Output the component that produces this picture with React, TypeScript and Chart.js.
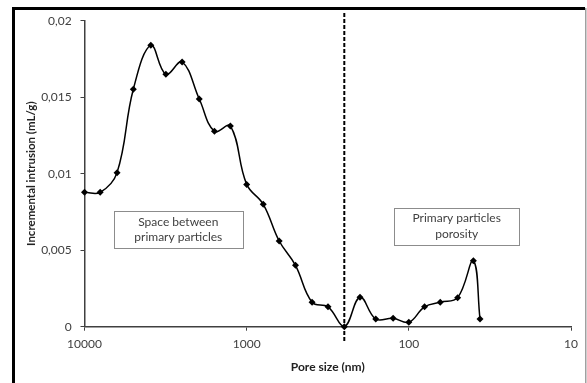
import React, { useEffect, useRef } from "react";
import { Chart, registerables } from "chart.js";

Chart.register(...registerables);

// ---- data ----
const poreSizes = [10000, 8000, 6300, 5000, 3900, 3150, 2500, 1960, 1580, 1260, 1000, 790, 630, 500, 395, 315, 250, 200, 160, 125, 100, 80, 64, 50, 40, 36.4];
const intrusion = [0.00878, 0.00878, 0.01007, 0.01552, 0.01839, 0.0165, 0.0173, 0.01488, 0.01277, 0.01312, 0.0093, 0.008, 0.0056, 0.00401, 0.0016, 0.0013, 0, 0.00192, 0.0005, 0.00055, 0.00029, 0.0013, 0.0016, 0.0019, 0.00431, 0.0005];
const dividerX = 250;
const dividerY = [0.0205, -0.001];
const xTickValues = [10, 100, 1000, 10000];
const yTickValues = [0, 0.005, 0.01, 0.015, 0.02];
const annotationTexts = [["Space between", "primary particles"], ["Primary particles", "porosity"]];
const annotationXRange = [[6580, 1059], [123, 20.9]];
const annotationYRange = [[0.00756, 0.00512], [0.00778, 0.00534]];

const FONT = "Lato, 'Open Sans', sans-serif";
const TEXT = "#404040";

const annotationPlugin = {
  id: "annotBoxes",
  afterDatasetsDraw(chart: any) {
    const { ctx, scales } = chart;
    const xs = scales.x, ys = scales.y;
    ctx.save();
    annotationTexts.forEach((lines, i) => {
      const x1 = xs.getPixelForValue(annotationXRange[i][0]);
      const x2 = xs.getPixelForValue(annotationXRange[i][1]);
      const y1 = ys.getPixelForValue(annotationYRange[i][0]);
      const y2 = ys.getPixelForValue(annotationYRange[i][1]);
      const l = Math.min(x1, x2), r = Math.max(x1, x2), t = Math.min(y1, y2), b = Math.max(y1, y2);
      ctx.fillStyle = "#ffffff";
      ctx.fillRect(l, t, r - l, b - t);
      ctx.strokeStyle = "#8c8c8c";
      ctx.lineWidth = 1;
      ctx.strokeRect(Math.round(l) + 0.5, Math.round(t) + 0.5, Math.round(r - l), Math.round(b - t));
      ctx.fillStyle = TEXT;
      ctx.font = `12px ${FONT}`;
      ctx.textAlign = "center";
      ctx.textBaseline = "middle";
      const cx = (l + r) / 2, cy = (t + b) / 2;
      const lh = 15.5;
      lines.forEach((s, j) => {
        ctx.fillText(s, cx, cy + (j - (lines.length - 1) / 2) * lh);
      });
    });
    ctx.restore();
  },
};

const framePlugin = {
  id: "frame",
  beforeDraw(chart: any) {
    const { ctx, width, height } = chart;
    ctx.save();
    ctx.fillStyle = "#ffffff";
    ctx.fillRect(0, 0, width, height);
    ctx.restore();
  },
  afterDraw(chart: any) {
    const { ctx, height } = chart;
    ctx.save();
    ctx.fillStyle = "#000000";
    ctx.fillRect(12, 7, 3, height - 7);
    ctx.fillRect(12, 7, 573, 3);
    ctx.fillStyle = "#a0a0a0";
    ctx.fillRect(585, 8, 1.5, height - 8);
    ctx.restore();
  },
};

export default function App() {
  const ref = useRef<HTMLCanvasElement | null>(null);
  useEffect(() => {
    if (!ref.current) return;
    const chart = new Chart(ref.current, {
      type: "line",
      data: {
        datasets: [
          {
            data: poreSizes.map((x, i) => ({ x, y: intrusion[i] })),
            borderColor: "#000000",
            backgroundColor: "#000000",
            borderWidth: 1.5,
            pointStyle: "rectRot",
            pointRadius: 3.5,
            pointBorderWidth: 0,
            tension: 0.4,
            clip: false as any,
          },
          {
            data: dividerY.map((y) => ({ x: dividerX, y })),
            borderColor: "#000000",
            borderWidth: 2,
            borderDash: [4, 2],
            pointRadius: 0,
            tension: 0,
            clip: false as any,
          },
        ],
      },
      options: {
        animation: false,
        responsive: true,
        maintainAspectRatio: false,
        layout: { padding: { left: 0, top: 20.7, right: 16, bottom: 0 } },
        plugins: { legend: { display: false }, tooltip: { enabled: false } },
        scales: {
          x: {
            type: "logarithmic",
            reverse: true,
            min: 10,
            max: 10000,
            afterBuildTicks: (s: any) => {
              s.ticks = xTickValues.map((v) => ({ value: v, major: true }));
            },
            afterFit: (s: any) => {
              s.height = 56.3;
            },
            ticks: {
              autoSkip: false,
              maxRotation: 0,
              padding: 6.5,
              color: TEXT,
              font: { family: FONT, size: 12 },
              callback: (v: any) => String(v),
            },
            grid: { drawOnChartArea: false, drawTicks: true, tickLength: 4, color: "#404040", lineWidth: 1 },
            border: { color: "#404040", width: 1.5 },
            title: {
              display: true,
              text: "Pore size (nm)",
              color: "#222222",
              font: { family: FONT, size: 12, weight: "bold" },
              padding: { top: 0, bottom: 8.5 },
            },
          },
          y: {
            type: "linear",
            min: 0,
            max: 0.02,
            afterBuildTicks: (s: any) => {
              s.ticks = yTickValues.map((v) => ({ value: v }));
            },
            afterFit: (s: any) => {
              s.width = 84.5;
            },
            ticks: {
              padding: 8.8,
              color: TEXT,
              font: { family: FONT, size: 12 },
              callback: (v: any) => String(parseFloat(Number(v).toFixed(3))).replace(".", ","),
            },
            grid: { drawOnChartArea: false, drawTicks: true, tickLength: 4, color: "#404040", lineWidth: 1 },
            border: { color: "#404040", width: 1.5 },
            title: {
              display: true,
              text: "Incremental intrusion (mL/g)",
              color: "#222222",
              font: { family: FONT, size: 11.5, weight: "bold" },
              padding: { top: 24, bottom: 0 },
            },
          },
        },
      },
      plugins: [framePlugin, annotationPlugin],
    });
    return () => chart.destroy();
  }, []);
  return (
    <div style={{ position: "absolute", left: 0, top: 0, width: 587, height: 383 }}>
      <canvas ref={ref} />
    </div>
  );
}
